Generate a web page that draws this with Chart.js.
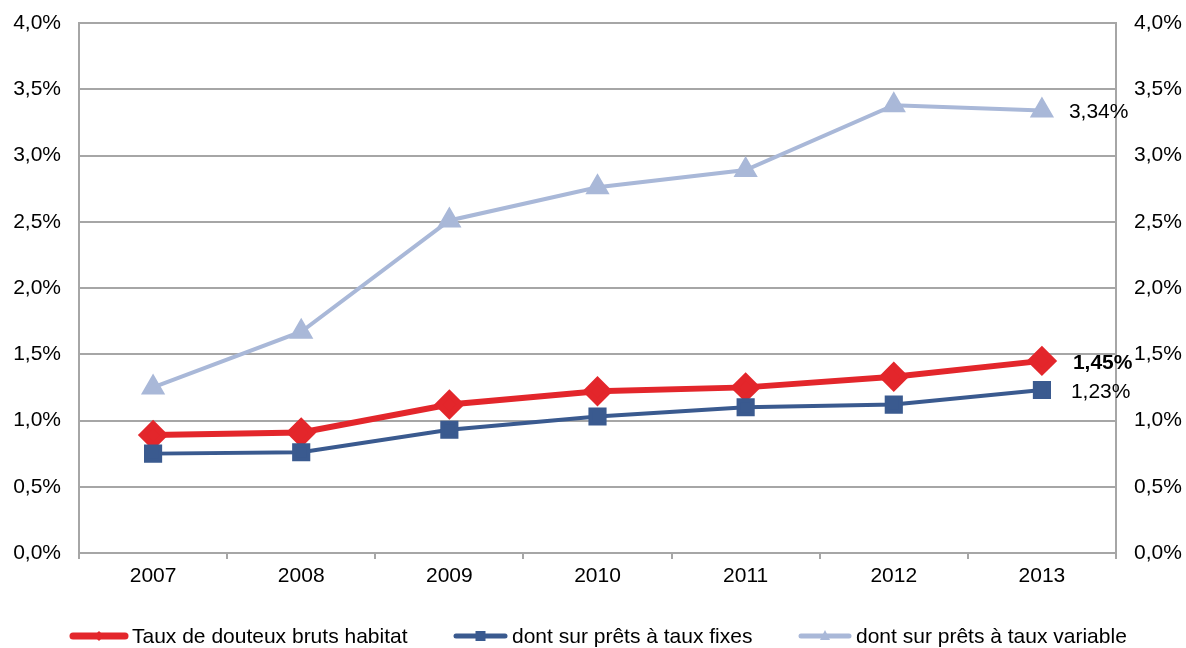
<!DOCTYPE html>
<html>
<head>
<meta charset="utf-8">
<script src="https://cdn.jsdelivr.net/npm/chart.js@4"></script>
<style>
  html, body { margin: 0; padding: 0; background: #fff; }
  #wrap { width: 1186px; height: 648px; position: relative; }
</style>
</head>
<body>
<div id="wrap"><canvas id="chart" width="1186" height="648"></canvas></div>
<script>
// Données
const years = ['2007', '2008', '2009', '2010', '2011', '2012', '2013'];
const tauxBruts = [0.89, 0.91, 1.12, 1.22, 1.25, 1.33, 1.45];
const tauxFixes = [0.75, 0.76, 0.93, 1.03, 1.10, 1.12, 1.23];
const tauxVariable = [1.25, 1.67, 2.51, 2.76, 2.89, 3.38, 3.34];
const seriesNames = ['Taux de douteux bruts habitat', 'dont sur prêts à taux fixes', 'dont sur prêts à taux variable'];
const yTicks = [0, 0.5, 1, 1.5, 2, 2.5, 3, 3.5, 4];

const RED = '#E3262B';
const BLUE = '#3A5A8F';
const LIGHT = '#A9B8D8';
const GRID = '#A6A6A6';
const FONT = "'Liberation Sans', Arial, sans-serif";

function fmt(v, d) {
  return v.toFixed(d).replace('.', ',') + '%';
}

// étiquettes de fin de série + légende
const extras = {
  id: 'extras',
  afterDatasetsDraw(chart) {
    const ctx = chart.ctx;
    const labels = [
      { ds: 0, text: fmt(tauxBruts[6], 2), bold: true, dx: 31, dy: 2 },
      { ds: 1, text: fmt(tauxFixes[6], 2), bold: false, dx: 29, dy: 2 },
      { ds: 2, text: fmt(tauxVariable[6], 2), bold: false, dx: 27, dy: 2 }
    ];
    ctx.save();
    ctx.fillStyle = '#000';
    ctx.textBaseline = 'middle';
    ctx.textAlign = 'left';
    labels.forEach(l => {
      const pt = chart.getDatasetMeta(l.ds).data[6];
      ctx.font = (l.bold ? 'bold ' : '') + '21px ' + FONT;
      ctx.fillText(l.text, pt.x + l.dx, pt.y + l.dy);
    });

    // légende
    const items = [
      { x: 70, w: 58, color: RED, lw: 7, style: 'diamond' },
      { x: 453, w: 55, color: BLUE, lw: 5, style: 'square' },
      { x: 798, w: 54, color: LIGHT, lw: 5, style: 'triangle' }
    ];
    const ly = 636;
    ctx.font = '21px ' + FONT;
    items.forEach((it, i) => {
      ctx.strokeStyle = it.color;
      ctx.lineWidth = it.lw;
      ctx.lineCap = 'round';
      ctx.beginPath();
      ctx.moveTo(it.x + 3, ly);
      ctx.lineTo(it.x + it.w - 3, ly);
      ctx.stroke();
      ctx.fillStyle = it.color;
      const cx = it.x + it.w / 2;
      ctx.beginPath();
      if (it.style === 'diamond') {
        ctx.moveTo(cx, ly - 5); ctx.lineTo(cx + 5, ly); ctx.lineTo(cx, ly + 5); ctx.lineTo(cx - 5, ly);
      } else if (it.style === 'square') {
        ctx.rect(cx - 5, ly - 5, 10, 10);
      } else {
        ctx.moveTo(cx, ly - 6); ctx.lineTo(cx + 5, ly + 4); ctx.lineTo(cx - 5, ly + 4);
      }
      ctx.closePath();
      ctx.fill();
      ctx.fillStyle = '#000';
      ctx.fillText(seriesNames[i], it.x + it.w + 4, ly + 1);
    });
    ctx.restore();
  }
};

function fitY(width) {
  return function (s) {
    s.width = width;
    s.paddingTop = 0;
    s.paddingBottom = 0;
  };
}

new Chart(document.getElementById('chart'), {
  type: 'line',
  data: {
    labels: years,
    datasets: [
      {
        label: seriesNames[0], data: tauxBruts, yAxisID: 'y',
        borderColor: RED, backgroundColor: RED, borderWidth: 6,
        pointStyle: 'rectRot', pointRadius: 11, pointHoverRadius: 11, order: 2
      },
      {
        label: seriesNames[1], data: tauxFixes, yAxisID: 'y',
        borderColor: BLUE, backgroundColor: BLUE, borderWidth: 4,
        pointStyle: 'rect', pointRadius: 10, pointHoverRadius: 10, order: 1
      },
      {
        label: seriesNames[2], data: tauxVariable, yAxisID: 'y',
        borderColor: LIGHT, backgroundColor: LIGHT, borderWidth: 4,
        pointStyle: 'triangle', pointRadius: 10, pointHoverRadius: 10, order: 3
      }
    ]
  },
  options: {
    responsive: false,
    animation: false,
    layout: { autoPadding: false, padding: { top: 23, bottom: 52, left: 0, right: 0 } },
    plugins: { legend: { display: false }, tooltip: { enabled: false } },
    scales: {
      x: {
        offset: true,
        grid: { offset: true, drawOnChartArea: false, color: GRID, lineWidth: 2, tickLength: 6 },
        border: { color: GRID, width: 2 },
        ticks: { color: '#000', font: { family: FONT, size: 21 }, padding: 5 },
        afterFit(s) { s.height = 43; }
      },
      y: {
        position: 'left', min: 0, max: 4,
        afterBuildTicks(s) { s.ticks = yTicks.map(v => ({ value: v })); },
        grid: { color: GRID, lineWidth: 2, drawTicks: false },
        border: { color: GRID, width: 2 },
        ticks: { color: '#000', font: { family: FONT, size: 21 }, padding: 18, callback: v => fmt(v, 1) },
        afterFit: fitY(79)
      },
      y2: {
        position: 'right', min: 0, max: 4,
        afterBuildTicks(s) { s.ticks = yTicks.map(v => ({ value: v })); },
        grid: { drawOnChartArea: false, drawTicks: false },
        border: { color: GRID, width: 2 },
        ticks: { color: '#000', font: { family: FONT, size: 21 }, padding: 18, callback: v => fmt(v, 1) },
        afterFit: fitY(70)
      }
    }
  },
  plugins: [extras]
});
</script>
</body>
</html>
